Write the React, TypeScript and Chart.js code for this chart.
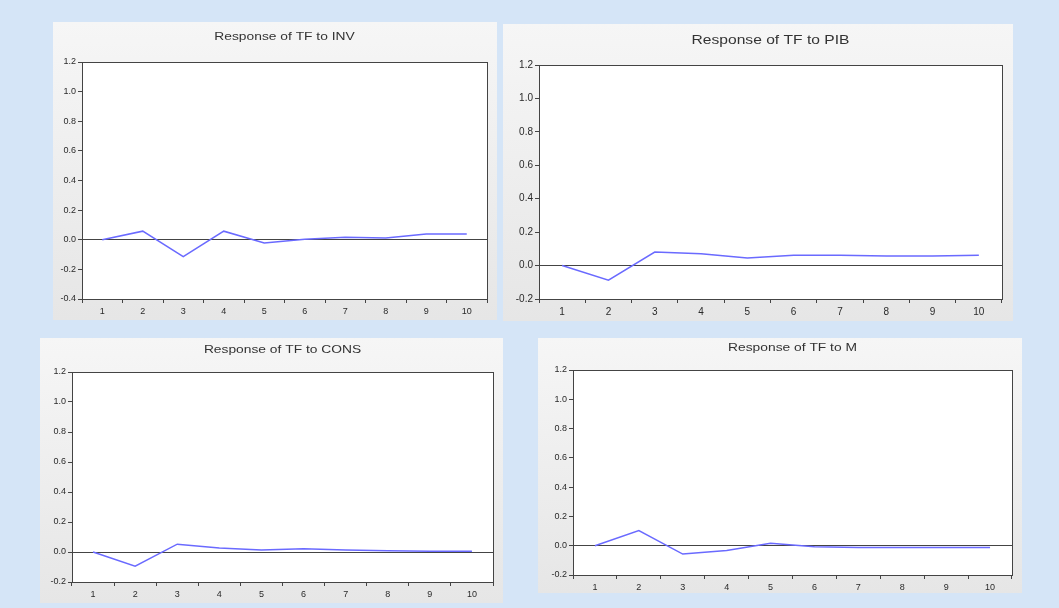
import React, { useEffect, useRef } from "react";
import { Chart, registerables } from "chart.js";

Chart.register(...registerables);

const categories = ["1", "2", "3", "4", "5", "6", "7", "8", "9", "10"];
const invValues = [0.0, 0.058, -0.114, 0.058, -0.022, 0.003, 0.017, 0.011, 0.038, 0.038];
const pibValues = [0.0, -0.087, 0.081, 0.07, 0.045, 0.062, 0.062, 0.057, 0.057, 0.062];
const consValues = [0.0, -0.095, 0.052, 0.027, 0.014, 0.022, 0.014, 0.009, 0.005, 0.005];
const mValues = [0.0, 0.103, -0.057, -0.032, 0.016, -0.007, -0.013, -0.013, -0.013, -0.013];
const titles = [
  "Response of TF to INV",
  "Response of TF to PIB",
  "Response of TF to CONS",
  "Response of TF to M",
];
const yMins = [-0.4, -0.2, -0.2, -0.2];
const yMax = 1.2;

type Layout = {
  px: number; py: number; pw: number; ph: number;
  left: number; right: number; top: number; bottom: number;
  titleY: number; tickSize: number; titleSize: number;
};

const layouts: Layout[] = [
  { px: 53, py: 22, pw: 444, ph: 298, left: 82, right: 487, top: 62, bottom: 299, titleY: 37, tickSize: 9, titleSize: 11.5 },
  { px: 503, py: 24, pw: 510, ph: 297, left: 539, right: 1002, top: 65, bottom: 299, titleY: 40, tickSize: 10, titleSize: 13 },
  { px: 40, py: 338, pw: 463, ph: 265, left: 72, right: 493, top: 372, bottom: 582, titleY: 350, tickSize: 9, titleSize: 11.5 },
  { px: 538, py: 338, pw: 484, ph: 255, left: 573, right: 1012, top: 370, bottom: 575, titleY: 348, tickSize: 9, titleSize: 11.5 },
];

function Panel({ title, values, yMin, l }: { title: string; values: number[]; yMin: number; l: Layout }) {
  const ref = useRef<HTMLCanvasElement | null>(null);
  useEffect(() => {
    if (!ref.current) return;
    const font = { family: "Liberation Sans, Arial, sans-serif", size: l.tickSize };
    const framePlugin = {
      id: "frame",
      beforeDraw(chart: any) {
        const { ctx, chartArea } = chart;
        ctx.save();
        ctx.fillStyle = "#ffffff";
        ctx.fillRect(chartArea.left, chartArea.top, chartArea.right - chartArea.left, chartArea.bottom - chartArea.top);
        ctx.restore();
      },
      afterDatasetsDraw(chart: any) {
        const { ctx, chartArea } = chart;
        ctx.save();
        ctx.strokeStyle = "#444";
        ctx.lineWidth = 1;
        ctx.strokeRect(
          Math.round(chartArea.left) + 0.5,
          Math.round(chartArea.top) + 0.5,
          Math.round(chartArea.right - chartArea.left),
          Math.round(chartArea.bottom - chartArea.top)
        );
        ctx.fillStyle = "#333";
        ctx.font = `${l.titleSize}px Liberation Sans, Arial, sans-serif`;
        ctx.textAlign = "center";
        ctx.textBaseline = "middle";
        ctx.translate((chartArea.left + chartArea.right) / 2, l.titleY - l.py);
        ctx.scale(1.2, 1);
        ctx.fillText(title, 0, 0);
        ctx.restore();
      },
    };
    const chart = new Chart(ref.current, {
      type: "line",
      data: {
        labels: categories,
        datasets: [
          {
            data: values,
            borderColor: "#6a6aff",
            borderWidth: 1.5,
            pointRadius: 0,
            tension: 0,
            fill: false,
          },
        ],
      },
      options: {
        animation: false,
        responsive: false,
        devicePixelRatio: 1,
        layout: {
          padding: { left: 0, top: l.top - l.py, right: l.px + l.pw - l.right, bottom: 0 },
        },
        plugins: { legend: { display: false }, tooltip: { enabled: false }, title: { display: false } },
        scales: {
          x: {
            type: "category",
            offset: true,
            border: { display: false },
            grid: { offset: true, drawOnChartArea: false, drawTicks: true, tickLength: 4, color: "#444" },
            ticks: { font, color: "#2a2a2a", padding: 3, maxRotation: 0, autoSkip: false },
            afterFit: (s: any) => { s.height = l.py + l.ph - l.bottom; },
          },
          y: {
            min: yMin,
            max: yMax,
            border: { display: false },
            grid: {
              drawOnChartArea: true,
              drawTicks: true,
              tickLength: 4,
              color: (c: any) => (c.tick && Math.abs(c.tick.value) < 1e-9 ? "#444" : "rgba(0,0,0,0)"),
              tickColor: "#444",
            },
            ticks: {
              stepSize: 0.2,
              font,
              color: "#2a2a2a",
              padding: 2,
              callback: (v: any) => (Math.abs(Number(v)) < 1e-9 ? "0.0" : Number(v).toFixed(1)),
            },
            afterFit: (s: any) => { s.width = l.left - l.px; },
          },
        },
      },
      plugins: [framePlugin],
    } as any);
    return () => chart.destroy();
  }, []);
  return (
    <div
      style={{
        position: "absolute",
        left: l.px,
        top: l.py,
        width: l.pw,
        height: l.ph,
        background: "linear-gradient(#f6f6f6, #e6e6e6)",
      }}
    >
      <canvas ref={ref} width={l.pw} height={l.ph} style={{ display: "block" }} />
    </div>
  );
}

export default function App() {
  const series = [invValues, pibValues, consValues, mValues];
  return (
    <div
      style={{
        position: "fixed",
        left: 0,
        top: 0,
        width: 1059,
        height: 608,
        background: "#d5e5f7",
        overflow: "hidden",
      }}
    >
      {layouts.map((l, i) => (
        <Panel key={i} title={titles[i]} values={series[i]} yMin={yMins[i]} l={l} />
      ))}
    </div>
  );
}
